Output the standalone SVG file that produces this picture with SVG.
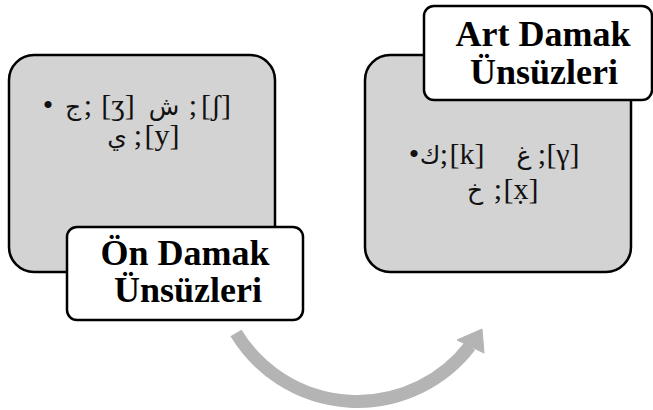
<svg xmlns="http://www.w3.org/2000/svg" width="653" height="410" viewBox="0 0 653 410">
<style>
.big{fill:#d3d3d3;stroke:#000;stroke-width:2.5}
.lab{fill:#fff;stroke:#000;stroke-width:2.5}
.lt{font-family:'Liberation Serif','Times New Roman',serif;font-weight:bold;font-size:36px;fill:#000;text-anchor:middle}
.b{font-family:'Liberation Serif','Times New Roman',serif;font-size:30px;fill:#111;text-anchor:middle}
.ar{font-family:'DejaVu Sans',sans-serif;font-size:25px;fill:#111;text-anchor:middle}
.conn{fill:none;stroke:#b4b4b4;stroke-width:13}
</style>
<g id="connectors">
<path class="conn" d="M236 333 A142 142 0 0 0 470 346"/>
<polygon points="457,340 482,329 484,353" fill="#b4b4b4" stroke="#b4b4b4" stroke-width="1"/>
</g>
<g id="node-on-damak">
<rect class="big" x="9" y="55" width="266" height="217" rx="25"/>
<text class="b" x="48" y="115">•</text>
<text class="ar" x="73" y="115">ج</text>
<text class="b" x="88" y="115">;</text>
<text class="b" x="118" y="115">[ʒ]</text>
<text class="ar" x="164" y="115">ش</text>
<text class="b" x="193" y="115">;</text>
<text class="b" x="216" y="115">[ʃ]</text>
<text class="ar" x="117" y="145">ي</text>
<text class="b" x="138" y="145">;</text>
<text class="b" x="162" y="145">[y]</text>
</g>
<g id="label-on-damak">
<rect class="lab" x="67" y="227" width="236" height="93" rx="10"/>
<text class="lt" x="185" y="265">Ön Damak</text>
<text class="lt" x="188" y="302">Ünsüzleri</text>
</g>
<g id="node-art-damak">
<rect class="big" x="365" y="55" width="266" height="217" rx="25"/>
<text class="b" x="414" y="164">•</text>
<text class="ar" x="430" y="164">ك</text>
<text class="b" x="444" y="164">;</text>
<text class="b" x="467" y="164">[k]</text>
<text class="ar" x="524" y="164">غ</text>
<text class="b" x="542" y="164">;</text>
<text class="b" x="563" y="164">[γ]</text>
<text class="ar" x="475" y="199">خ</text>
<text class="b" x="498" y="199">;</text>
<text class="b" x="521" y="199">[x̣]</text>
</g>
<g id="label-art-damak">
<rect class="lab" x="424" y="6" width="228" height="94" rx="10"/>
<text class="lt" x="543" y="46">Art Damak</text>
<text class="lt" x="544" y="84">Ünsüzleri</text>
</g>
</svg>
